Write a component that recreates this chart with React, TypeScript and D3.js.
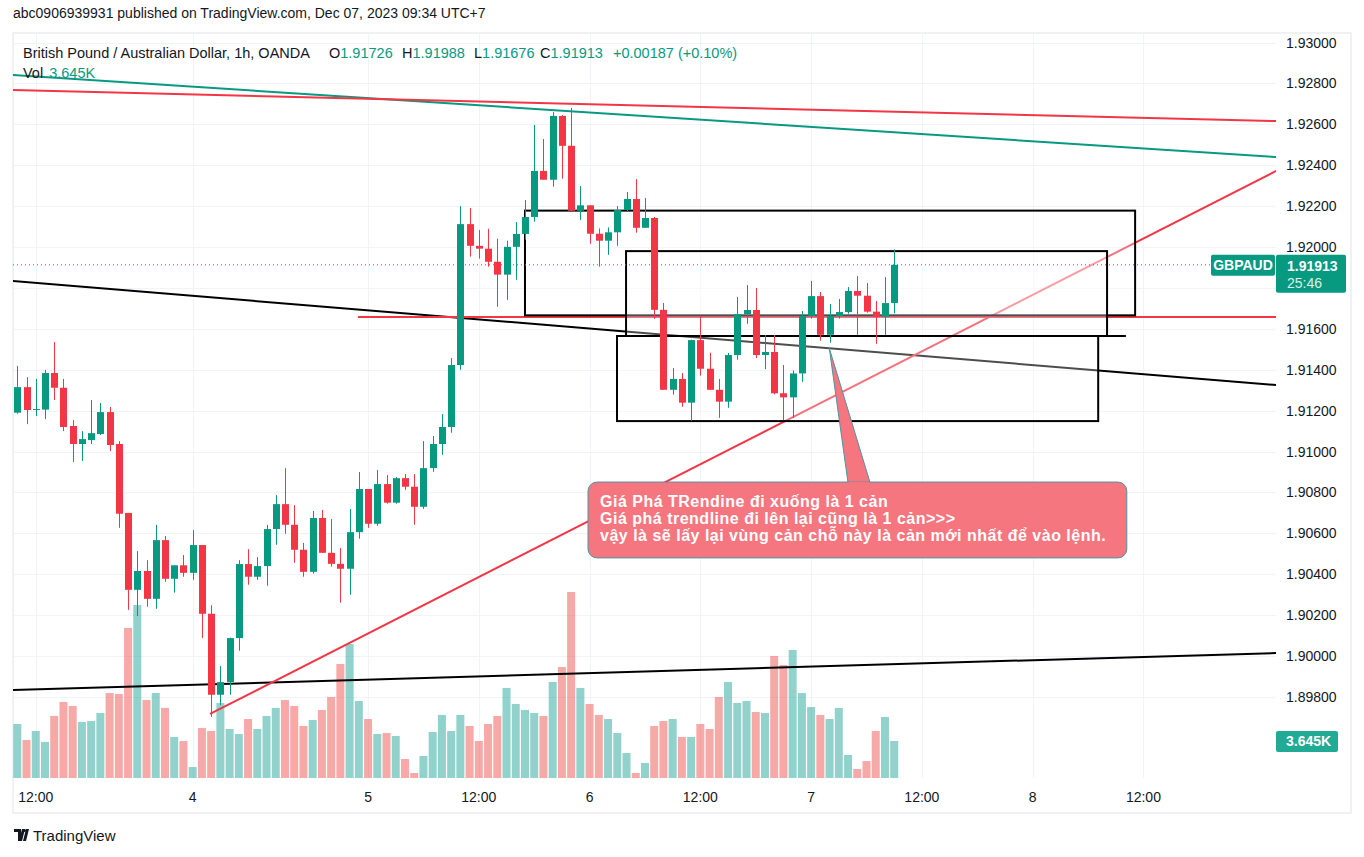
import React from "react";
import * as d3 from "d3";

// ---- data (1h GBPAUD candles, Dec 1 10:00 .. Dec 7 09:00, UTC+7) ----
const opens = [1.9119,1.91315,1.91203,1.91205,1.91384,1.91312,1.91125,1.91037,1.91056,1.91086,1.91193,1.91037,1.907,1.90324,1.90416,1.9028,1.90567,1.90378,1.90444,1.90407,1.90543,1.90207,1.89811,1.89873,1.90088,1.9045,1.90388,1.9044,1.90621,1.90743,1.90642,1.9052,1.90412,1.90675,1.90505,1.90451,1.90427,1.90606,1.90817,1.90647,1.90841,1.9075,1.9087,1.90828,1.9073,1.90919,1.91037,1.9112,1.91423,1.92112,1.92006,1.91992,1.91928,1.91865,1.92001,1.92064,1.92147,1.92372,1.92329,1.92641,1.92495,1.92177,1.92204,1.92065,1.92031,1.92072,1.92181,1.92235,1.92094,1.92142,1.91693,1.91302,1.91355,1.91239,1.91545,1.91405,1.91302,1.91244,1.91472,1.91672,1.91692,1.91472,1.91487,1.91285,1.91265,1.91382,1.91663,1.9176,1.91571,1.91663,1.91682,1.91785,1.91762,1.91684,1.91659,1.91726];
const highs = [1.91418,1.91364,1.91355,1.91399,1.91535,1.91355,1.91154,1.911,1.91252,1.91237,1.91218,1.91051,1.907,1.90513,1.90469,1.90641,1.90587,1.90445,1.90494,1.90616,1.90543,1.90249,1.89951,1.9009,1.90469,1.90523,1.90484,1.90641,1.90787,1.90919,1.90738,1.90553,1.90709,1.90714,1.9067,1.90528,1.90719,1.909,1.90817,1.9091,1.90885,1.90875,1.9089,1.9089,1.91051,1.91076,1.91183,1.91457,1.922,1.92191,1.92083,1.92089,1.92041,1.92031,1.92122,1.9223,1.92597,1.92528,1.9266,1.92645,1.9268,1.92298,1.92205,1.92091,1.92096,1.922,1.92269,1.92332,1.9224,1.92147,1.91726,1.91408,1.91384,1.91547,1.91664,1.91483,1.91355,1.91482,1.91756,1.91814,1.918,1.9157,1.9157,1.91423,1.91397,1.91687,1.91834,1.9178,1.91721,1.91746,1.91804,1.91858,1.91824,1.91736,1.91853,1.91988];
const lows = [1.91185,1.91134,1.91174,1.91159,1.91252,1.911,1.90949,1.90954,1.91037,1.91081,1.91002,1.90627,1.90226,1.90196,1.90241,1.90231,1.90363,1.9031,1.90388,1.90373,1.90089,1.89703,1.8976,1.89811,1.90026,1.90349,1.90373,1.90344,1.90544,1.90598,1.90456,1.90388,1.90404,1.90505,1.90437,1.90261,1.903,1.90574,1.90627,1.90637,1.90745,1.90745,1.90813,1.90642,1.9072,1.90901,1.90984,1.91092,1.914,1.91953,1.91943,1.91904,1.91708,1.91742,1.9184,1.92036,1.92124,1.92329,1.92295,1.92334,1.92173,1.92133,1.92016,1.91904,1.91962,1.92006,1.92176,1.9207,1.92094,1.91649,1.91302,1.91278,1.91219,1.91151,1.91371,1.91302,1.91165,1.91214,1.91449,1.91625,1.91457,1.91403,1.9128,1.91154,1.91164,1.91341,1.9165,1.91542,1.91532,1.9165,1.91674,1.91571,1.91679,1.91527,1.91571,1.91676];
const closes = [1.91315,1.91203,1.91208,1.91384,1.91312,1.9112,1.91037,1.91061,1.9109,1.91193,1.91032,1.90696,1.90324,1.90416,1.9028,1.90567,1.90378,1.90444,1.90407,1.90543,1.90207,1.89811,1.89873,1.90088,1.9045,1.90388,1.9044,1.90621,1.90743,1.90642,1.9052,1.90412,1.90675,1.90505,1.90451,1.90427,1.90606,1.90817,1.90647,1.90841,1.9075,1.9087,1.90828,1.9073,1.90919,1.91037,1.9112,1.91423,1.92112,1.92006,1.91992,1.91928,1.91865,1.92001,1.92064,1.92147,1.92372,1.92329,1.92641,1.92495,1.92177,1.92204,1.92065,1.92031,1.92072,1.92181,1.92235,1.92094,1.92142,1.91693,1.91302,1.91355,1.91239,1.91545,1.91405,1.91302,1.91244,1.91472,1.91672,1.91692,1.91472,1.91487,1.91285,1.91265,1.91382,1.91663,1.9176,1.91571,1.91663,1.91682,1.91785,1.91762,1.91684,1.91659,1.91726,1.91913];
const volumes = [5.32,3.74,4.63,3.55,6.11,7.49,7.09,5.52,5.61,6.4,8.37,8.27,14.78,17.04,7.68,8.37,6.9,4.04,3.64,1.08,4.93,4.63,7.39,4.83,4.33,5.81,4.83,6.11,6.9,7.68,7.09,5.12,5.71,6.7,7.98,11.23,13.2,7.58,5.81,4.33,4.43,4.14,1.87,0.49,2.17,4.53,6.21,4.63,6.21,5.12,3.64,5.32,6.11,8.87,7.29,6.7,6.4,6.11,9.46,10.93,18.32,8.87,7.29,6.21,5.81,4.43,2.46,0.49,1.48,5.12,5.61,5.81,4.04,4.04,5.32,4.83,7.98,9.46,7.39,7.58,6.5,6.4,12.02,11.13,12.61,8.37,6.99,6.21,5.81,6.9,2.27,0.89,1.67,4.63,6.01,3.645];

const timeTickIndex = [2, 19, 38, 50, 62, 74, 86, 98, 110, 122];
const timeTickLabels = ["12:00", "4", "5", "12:00", "6", "12:00", "7", "12:00", "8", "12:00"];
const priceTicks = [1.898, 1.9, 1.902, 1.904, 1.906, 1.908, 1.91, 1.912, 1.914, 1.916, 1.918, 1.92, 1.922, 1.924, 1.926, 1.928, 1.93];

// drawings anchored at [bar index, price]
const greenTrend = [[-0.57, 1.92841], [136.37, 1.92440]];
const redTrendTop = [[-0.57, 1.92768], [136.37, 1.92616]];
const blackTrendMid = [[-0.57, 1.91834], [136.37, 1.91325]];
const blackTrendLow = [[-0.57, 1.89834], [136.37, 1.90015]];
const redTrendUp = [[20.88, 1.89717], [136.37, 1.92372]];
const redLevel = [[36.9, 1.91658], [136.37, 1.91658]];
const boxes = [
  [55.0, 121.1, 1.92178, 1.91666],
  [65.95, 118.06, 1.9198, 1.91565],
  [64.97, 117.1, 1.91565, 1.91149],
];
const boxExtra = [[118.06, 1.91565], [120.1, 1.91565]];
const callout = { left: 61.83, right: 120.2, top: 1.90851, bottom: 1.9048, tip: [87.97, 1.91505], baseL: 90.0, baseR: 92.4 };
const calloutLines = [
  "Giá Phá TRendine đi xuống là 1 cản",
  "Giá phá trendline đi lên lại cũng là 1 cản>>>",
  "vậy là sẽ lấy lại vùng cản chỗ này là cản mới nhất để vào lệnh.",
];

const UP = "#089981";
const DOWN = "#F23645";
const VOL_UP = "rgba(38,166,154,0.5)";
const VOL_DOWN = "rgba(239,83,80,0.5)";
const TEXT = "#131722";
const GRID = "#f0f3fa";
const FONT = "'Liberation Sans', Arial, sans-serif";

export default function App() {
  const W = 1364, H = 857;
  const pL = 13, pR = 1276, pT = 33, pB = 778;
  const x = d3.scaleLinear().domain([0, 95]).range([17.3, 894.2]);
  const y = d3.scaleLinear().domain([1.898, 1.93]).range([697, 42.5]);
  const yv = d3.scaleLinear().domain([0, d3.max(volumes) as number]).range([pB, 592]);
  const line = d3.line<number[]>().x((d) => x(d[0])).y((d) => y(d[1]));
  const n = closes.length;
  const last = closes[n - 1];
  const lastY = y(last);
  const fmt = d3.format(".5f");

  const cl = callout;
  const cx0 = x(cl.left), cx1 = x(cl.right), cy0 = y(cl.top), cy1 = y(cl.bottom);
  const visibleTicks = priceTicks.filter((p) => !(y(p) > lastY - 16 && y(p) < lastY + 34));

  return (
    <svg width={W} height={H} style={{ position: "absolute", left: 0, top: 0, background: "#fff" }} fontFamily={FONT}>
      <defs>
        <clipPath id="plot"><rect x={pL} y={pT} width={pR - pL} height={pB - pT} /></clipPath>
      </defs>
      <rect x={0} y={0} width={W} height={H} fill="#fff" />
      {/* header */}
      <text x={13} y={18} fontSize={14} fill={TEXT}>abc0906939931 published on TradingView.com, Dec 07, 2023 09:34 UTC+7</text>
      {/* frame */}
      <rect x={pL} y={pT} width={1351 - pL} height={813 - pT} fill="none" stroke="#e0e3eb" strokeWidth={1} />
      {/* grid */}
      <g clipPath="url(#plot)">
        {priceTicks.map((p) => (
          <line key={"h" + p} x1={pL} x2={pR} y1={Math.round(y(p)) + 0.5} y2={Math.round(y(p)) + 0.5} stroke={GRID} />
        ))}
        {timeTickIndex.map((i) => (
          <line key={"v" + i} x1={Math.round(x(i)) + 0.5} x2={Math.round(x(i)) + 0.5} y1={pT} y2={pB} stroke={GRID} />
        ))}
      </g>
      <g clipPath="url(#plot)">
        {/* volume */}
        {volumes.map((v, i) => (
          <rect key={"vol" + i} x={x(i) - 4} y={yv(v)} width={8} height={pB - yv(v)} fill={closes[i] >= opens[i] ? VOL_UP : VOL_DOWN} />
        ))}
        {/* trend lines */}
        <path d={line(greenTrend as any) || ""} stroke={UP} strokeWidth={2} fill="none" />
        <path d={line(redTrendTop as any) || ""} stroke={DOWN} strokeWidth={2} fill="none" />
        <path d={line(blackTrendMid as any) || ""} stroke="#000" strokeWidth={2} fill="none" />
        <path d={line(blackTrendLow as any) || ""} stroke="#000" strokeWidth={2} fill="none" />
        <path d={line(redLevel as any) || ""} stroke={DOWN} strokeWidth={2} fill="none" />
        <path d={line(redTrendUp as any) || ""} stroke={DOWN} strokeWidth={2} fill="none" />
        {/* boxes (translucent white fill, sent behind the series) */}
        {boxes.map((b, k) => (
          <rect key={"b" + k} x={x(b[0])} y={y(b[2])} width={x(b[1]) - x(b[0])} height={y(b[3]) - y(b[2])} fill="rgba(255,255,255,0.3)" stroke="#000" strokeWidth={2} />
        ))}
        <path d={line(boxExtra as any) || ""} stroke="#000" strokeWidth={2} fill="none" />
        {/* candles */}
        {closes.map((c, i) => {
          const o = opens[i];
          const col = c >= o ? UP : DOWN;
          const top = y(Math.max(o, c));
          const bot = y(Math.min(o, c));
          const cx = Math.round(x(i));
          return (
            <g key={"c" + i}>
              <line x1={cx + 0.5} x2={cx + 0.5} y1={y(highs[i])} y2={y(lows[i])} stroke={col} strokeWidth={1} />
              <rect x={cx - 3} y={top} width={7} height={Math.max(1, bot - top)} fill={col} />
            </g>
          );
        })}
        {/* current price dotted line */}
        <line x1={pL} x2={1210} y1={lastY} y2={lastY} stroke={UP} strokeWidth={1} strokeDasharray="1,3" />
        {/* callout */}
        <path d={`M${x(cl.baseL)},${cy0 + 1} L${x(cl.tip[0])},${y(cl.tip[1])} L${x(cl.baseR)},${cy0 + 1}`} fill="#f5767f" stroke="#4f93a6" strokeWidth={1} />
        <rect x={cx0} y={cy0} width={cx1 - cx0} height={cy1 - cy0} rx={9} fill="#f5767f" stroke="#4f93a6" strokeWidth={1} />
        <path d={`M${x(cl.baseL) + 0.8},${cy0 + 1} L${x(cl.baseR) - 0.8},${cy0 + 1}`} stroke="#f5767f" strokeWidth={2} />
        {calloutLines.map((t, k) => (
          <text key={"cl" + k} x={cx0 + 12} y={cy0 + 25 + k * 17} fontSize={16} letterSpacing={0.5} fontWeight="bold" fill="#fff">{t}</text>
        ))}
      </g>
      {/* legend */}
      <text y={58} fontSize={14.5} fill={TEXT}>
        <tspan x={23}>British Pound / Australian Dollar, 1h, OANDA</tspan>
        <tspan x={329}>O</tspan><tspan fill={UP}>{fmt(opens[n - 1])}</tspan>
        <tspan x={402}>H</tspan><tspan fill={UP}>{fmt(highs[n - 1])}</tspan>
        <tspan x={474}>L</tspan><tspan fill={UP}>{fmt(lows[n - 1])}</tspan>
        <tspan x={540}>C</tspan><tspan fill={UP}>{fmt(last)}</tspan>
        <tspan x={613} fill={UP}>+0.00187 (+0.10%)</tspan>
      </text>
      <text x={23} y={78} fontSize={14.5} fill={TEXT}>
        <tspan>Vol</tspan><tspan dx={6} fill={UP}>3.645K</tspan>
      </text>
      {/* price axis */}
      {visibleTicks.map((p) => (
        <text key={"pt" + p} x={1286} y={y(p) + 5} fontSize={14} fill={TEXT}>{fmt(p)}</text>
      ))}
      {/* symbol + price label */}
      <rect x={1211} y={lastY - 10} width={64} height={21} rx={2} fill={UP} />
      <text x={1243} y={lastY + 5} fontSize={14} fill="#fff" textAnchor="middle" fontWeight="bold">GBPAUD</text>
      <rect x={1276} y={lastY - 10} width={70} height={38} rx={2} fill={UP} />
      <text x={1287} y={lastY + 6} fontSize={14} fill="#fff" fontWeight="bold">{fmt(last)}</text>
      <text x={1287} y={lastY + 23} fontSize={14} fill="#d9f0ec">25:46</text>
      {/* volume label */}
      <rect x={1276} y={yv(volumes[n - 1]) - 10} width={62} height={21} rx={2} fill="#22ab94" />
      <text x={1286} y={yv(volumes[n - 1]) + 5} fontSize={14} fill="#fff" fontWeight="bold">3.645K</text>
      {/* time axis */}
      {timeTickIndex.map((i, k) => (
        <text key={"tt" + k} x={x(i)} y={802} fontSize={14} fill={TEXT} textAnchor="middle">{timeTickLabels[k]}</text>
      ))}
      {/* logo */}
      <g transform="translate(14,829)">
        <path d="M0,0 H7 V12 H4 V3 H0 Z M8,0 H11 L8,12 H5 Z M12,0 H15 L12,12 H9 Z" fill={TEXT} />
        <circle cx={10.5} cy={1.5} r={1.5} fill={TEXT} />
      </g>
      <text x={33} y={841} fontSize={15} fill={TEXT}>TradingView</text>
    </svg>
  );
}
